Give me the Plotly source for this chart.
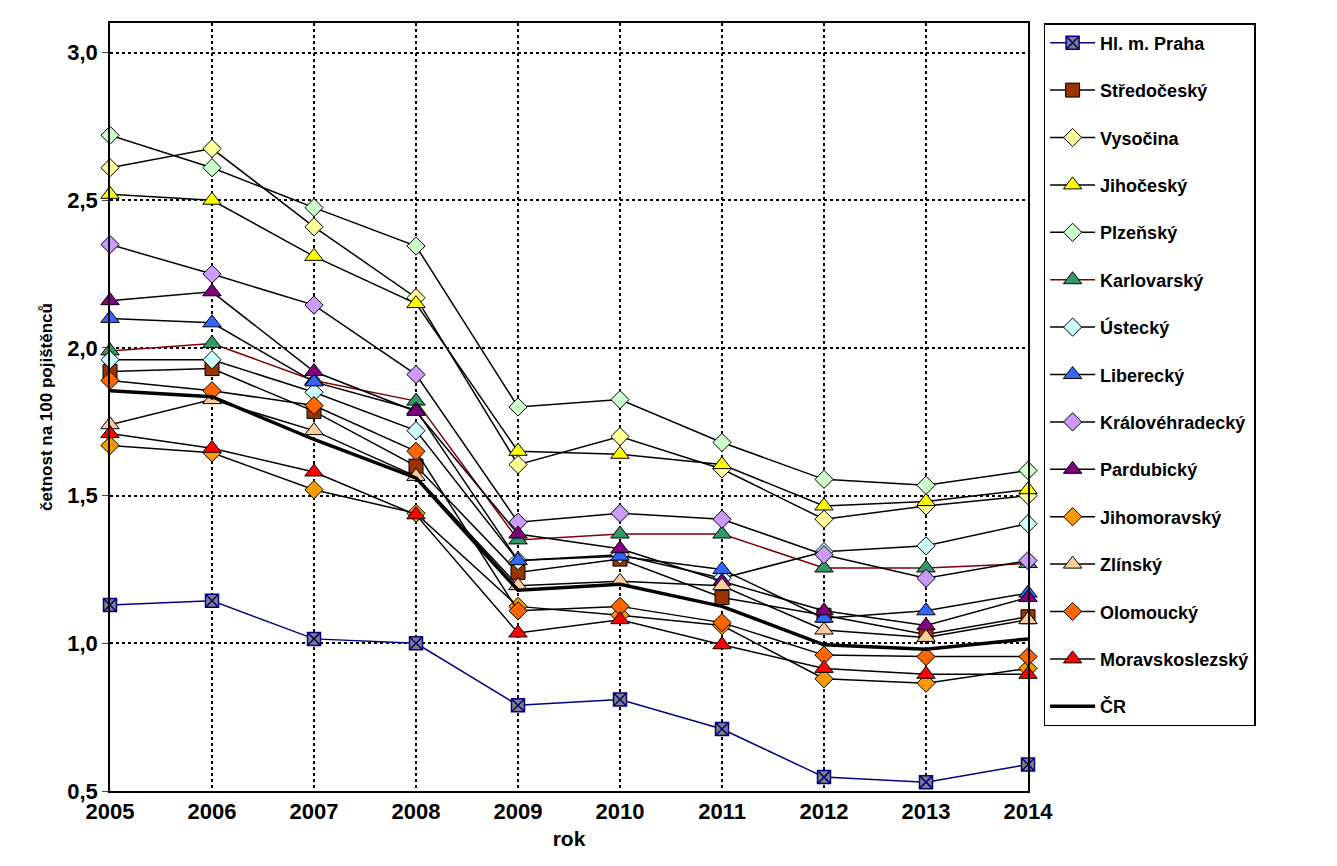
import plotly.graph_objects as go

years = [2005, 2006, 2007, 2008, 2009, 2010, 2011, 2012, 2013, 2014]
names = ["Hl. m. Praha", "Středočeský", "Vysočina", "Jihočeský", "Plzeňský", "Karlovarský",
         "Ústecký", "Liberecký", "Královéhradecký", "Pardubický", "Jihomoravský", "Zlínský",
         "Olomoucký", "Moravskoslezský", "ČR"]
praha = [1.13, 1.144, 1.015, 1.0, 0.79, 0.81, 0.71, 0.547, 0.53, 0.59]
stredocesky = [1.92, 1.93, 1.785, 1.60, 1.24, 1.285, 1.155, 1.095, 1.03, 1.09]
vysocina = [2.61, 2.675, 2.41, 2.17, 1.605, 1.70, 1.59, 1.42, 1.465, 1.50]
jihocesky = [2.52, 2.50, 2.31, 2.15, 1.65, 1.64, 1.605, 1.465, 1.48, 1.52]
plzensky = [2.72, 2.61, 2.475, 2.345, 1.80, 1.825, 1.68, 1.555, 1.535, 1.585]
karlovarsky = [1.99, 2.015, 1.89, 1.82, 1.35, 1.37, 1.37, 1.255, 1.255, 1.27]
ustecky = [1.96, 1.96, 1.85, 1.72, 1.28, 1.30, 1.22, 1.31, 1.33, 1.405]
liberecky = [2.10, 2.085, 1.885, 1.79, 1.28, 1.295, 1.25, 1.085, 1.11, 1.17]
kralovehradecky = [2.35, 2.25, 2.145, 1.91, 1.41, 1.44, 1.42, 1.30, 1.22, 1.28]
pardubicky = [2.16, 2.19, 1.92, 1.785, 1.37, 1.32, 1.21, 1.11, 1.06, 1.155]
jihomoravsky = [1.67, 1.645, 1.52, 1.44, 1.125, 1.095, 1.06, 0.88, 0.865, 0.915]
zlinsky = [1.74, 1.825, 1.72, 1.565, 1.195, 1.21, 1.195, 1.045, 1.02, 1.08]
olomoucky = [1.89, 1.855, 1.805, 1.65, 1.11, 1.125, 1.07, 0.96, 0.955, 0.955]
moravskoslezsky = [1.71, 1.66, 1.58, 1.435, 1.035, 1.08, 0.995, 0.915, 0.895, 0.895]
cr = [1.855, 1.835, 1.69, 1.56, 1.18, 1.20, 1.125, 0.995, 0.98, 1.015]

series = [praha, stredocesky, vysocina, jihocesky, plzensky, karlovarsky, ustecky, liberecky,
          kralovehradecky, pardubicky, jihomoravsky, zlinsky, olomoucky, moravskoslezsky, cr]
fills = ["#808080", "#993300", "#FFFF99", "#FFFF00", "#CCFFCC", "#339966", "#CCFFFF", "#3366FF",
         "#CC99FF", "#800080", "#FF9900", "#FFCC99", "#FF6600", "#FF0000", None]
symbols = ["square-x", "square", "diamond", "triangle-up", "diamond", "triangle-up", "diamond",
           "triangle-up", "diamond", "triangle-up", "diamond", "triangle-up", "diamond", "triangle-up", None]
linecolors = ["#000080"] + ["black"] * 4 + ["#800000"] + ["black"] * 9

fig = go.Figure()
for i, (n, s) in enumerate(zip(names, series)):
    if fills[i] is None:
        fig.add_trace(go.Scatter(x=years, y=s, name=n, mode="lines", cliponaxis=False,
                                 line=dict(color="black", width=3.5), legendgroup=n))
    else:
        mline = dict(color="#000080" if i == 0 else "black", width=1.5 if i == 0 else 1)
        size = 13 if i == 0 else (16 if symbols[i] == "triangle-up" else 14)
        fig.add_trace(go.Scatter(x=years, y=s, name=n, mode="lines+markers", cliponaxis=False,
                                 line=dict(color=linecolors[i], width=1.5),
                                 marker=dict(symbol=symbols[i], size=size,
                                             color=fills[i], line=mline),
                                 legendgroup=n))

fig.update_layout(
    width=1337, height=866, paper_bgcolor="white", plot_bgcolor="white",
    margin=dict(l=102, r=317, t=15, b=83),
    font=dict(family="Liberation Sans, Arial", color="black"),
    separators=", ",
    legend=dict(x=1.017, y=1.0, xanchor="left", yanchor="top", bordercolor="black",
                borderwidth=1.5, font=dict(size=18, weight="bold"),
                tracegroupgap=21, itemwidth=45),
    showlegend=True,
)
fig.update_xaxes(range=[2005, 2014], tickvals=years, showgrid=True, gridcolor="black",
                 griddash="dot", gridwidth=1.5, showline=True, linecolor="black", linewidth=1.5,
                 mirror=True, tickfont=dict(size=22, weight="bold"),
                 title=dict(text="rok", font=dict(size=21, weight="bold"), standoff=8), ticks="")
fig.update_yaxes(range=[0.5, 3.1], tickvals=[0.5, 1.0, 1.5, 2.0, 2.5, 3.0], tickformat=".1f",
                 showgrid=True, gridcolor="black", griddash="dot", gridwidth=1.5,
                 showline=True, linecolor="black", linewidth=1.5, mirror=True,
                 tickfont=dict(size=22, weight="bold"), ticks="outside", ticklen=6,
                 title=dict(text="četnost na 100 pojištěnců", font=dict(size=17, weight="bold"), standoff=10),
                 zeroline=False)
fig.write_html("out.html")
